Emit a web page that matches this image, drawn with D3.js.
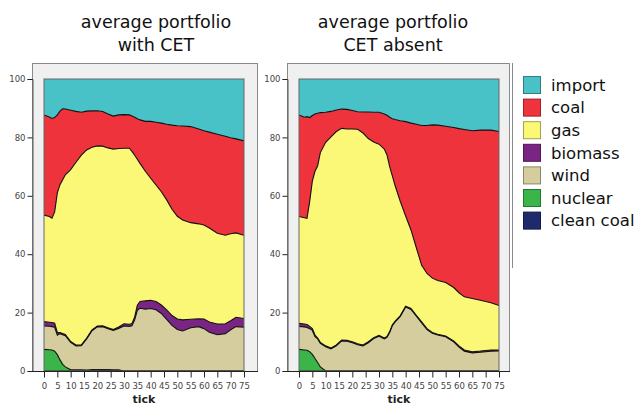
<!DOCTYPE html>
<html><head><meta charset="utf-8">
<script src="https://cdn.jsdelivr.net/npm/d3@7/dist/d3.min.js"></script>
<style>body{margin:0;background:#fff}svg{display:block}</style>
</head><body>
<svg id="chart" width="638" height="406"></svg>
<script>
// ---------- data ----------
const ticks = [0,2,3,4,5,6,7,8,10,12,14,16,18,20,22,24,26,28,30,32,33,34,35,36,38,40,42,44,46,48,50,52,55,58,60,62,65,68,70,72,75];
const seriesNames = ["import","coal","gas","biomass","wind","nuclear","clean coal"];
const xTickLabels = [0,5,10,15,20,25,30,35,40,45,50,55,60,65,70,75];
const yTickLabels = [0,20,40,60,80,100];
const titles = [["average portfolio","with CET"],["average portfolio","CET absent"]];

// with CET
const cetCleanCoal = [0,0,0,0,0,0,0,0,0,0,0,0,0.4,0.4,0.4,0.4,0.3,0.3,0,0,0,0,0,0,0,0,0,0,0,0,0,0,0,0,0,0,0,0,0,0,0];
const cetNuclear = [7.4,7.3,7.2,6.8,5.6,3.8,2.3,1.4,0.4,0.4,0.4,0.3,0,0,0,0,0,0,0,0,0,0,0,0,0,0,0,0,0,0,0,0,0,0,0,0,0,0,0,0,0];
const cetWind = [8.0,8.0,8.0,8.2,6.7,9.0,10.1,10.7,9.4,8.2,8.3,10.7,13.4,14.7,14.8,14.1,13.6,14.3,15.4,15.3,15.5,17.5,20.8,21.5,21.2,21.4,21.0,19.7,17.7,15.6,14.2,13.7,14.8,15.2,14.5,13.3,12.4,12.8,14.1,15.2,15.0];
const cetBiomass = [1.5,1.4,1.4,1.4,0.9,0.4,0.4,0.4,0.3,0.3,0.3,0.3,0.3,0.3,0.3,0.3,0.3,0.5,0.8,0.7,0.8,1.0,1.7,2.3,2.8,2.8,2.8,2.9,3.2,3.4,3.6,3.8,2.9,2.7,3.3,3.5,3.7,3.4,3.1,3.2,3.0];
const cetGas = [36.5,36.2,35.7,38.1,47.8,50.6,52.7,54.7,58.9,62.6,64.9,64.4,62.5,61.7,61.5,61.6,61.8,61.1,60.1,60.3,58.9,55.4,50.0,47.3,44.4,41.8,39.9,38.8,37.7,36.4,35.2,34.2,33.1,32.5,32.2,32.2,31.1,30.3,29.8,28.9,28.5];
const cetCoal = [34.3,34.1,34.2,32.3,26.7,25.2,24.3,22.5,20.3,17.4,14.7,13.3,12.5,12.0,11.9,11.6,11.3,11.5,11.5,11.4,12.1,13.0,13.9,14.9,17.1,19.5,21.5,23.5,25.9,28.8,31.0,32.2,32.9,32.5,32.3,32.8,33.9,33.9,32.9,32.2,32.3];
const cetImport = [12.3,13.0,13.5,13.2,12.3,11.0,10.2,10.3,10.7,11.1,11.4,11.0,10.9,10.9,11.1,12.0,12.7,12.3,12.2,12.3,12.7,13.1,13.6,14.0,14.5,14.5,14.8,15.1,15.5,15.8,16.0,16.1,16.3,17.1,17.7,18.2,18.9,19.6,20.1,20.5,21.2];

// CET absent
const absCleanCoal = [0,0,0,0,0,0,0,0,0,0,0,0,0,0,0,0,0,0,0,0,0,0,0,0,0,0,0,0,0,0,0,0,0,0,0,0,0,0,0,0,0];
const absNuclear = [7.4,7.2,7.1,6.6,5.7,4.3,2.9,1.4,0,0,0,0,0,0,0,0,0,0,0,0,0,0,0,0,0,0,0,0,0,0,0,0,0,0,0,0,0,0,0,0,0];
const absWind = [7.9,7.9,7.8,7.9,8.2,7.5,8.1,8.1,8.3,7.6,8.6,10.3,10.2,9.7,9.0,8.6,9.7,11.1,11.9,11.0,11.5,13.2,15.5,16.7,18.7,21.9,21.1,18.8,16.5,14.2,12.9,12.3,11.7,10.0,8.2,6.8,6.2,6.4,6.6,6.8,6.9];
const absBiomass = [1.0,1.0,1.0,0.8,0.6,0.5,0.3,0.3,0.3,0.3,0.3,0.3,0.3,0.3,0.3,0.3,0.3,0.3,0.3,0.3,0.3,0.3,0.3,0.3,0.3,0.3,0.3,0.3,0.3,0.3,0.3,0.3,0.3,0.3,0.4,0.4,0.4,0.4,0.4,0.4,0.3];
const absGas = [36.6,36.4,36.4,42.7,50.5,56.1,59.0,65.0,69.7,72.3,73.1,72.5,72.4,72.9,73.5,72.6,69.6,67.0,65.5,64.7,62.2,56.5,51.0,46.6,39.0,30.9,26.9,23.1,19.4,18.9,18.6,18.4,18.3,18.3,18.2,18.2,18.2,17.4,16.8,16.2,15.2];
const absCoal = [34.8,34.4,34.8,28.8,22.5,19.6,18.0,13.7,10.3,8.7,7.4,6.6,6.7,6.3,6.0,7.2,9.1,10.2,10.9,12.0,13.6,16.9,19.6,22.5,27.7,32.3,36.6,42.3,47.9,50.7,52.5,53.2,53.5,54.8,56.2,57.3,57.5,58.3,58.7,59.1,59.6];
const absImport = [12.3,13.1,12.9,13.2,12.5,12.0,11.7,11.5,11.4,11.1,10.6,10.3,10.4,10.8,11.2,11.3,11.3,11.4,11.4,12.0,12.4,13.1,13.6,13.9,14.3,14.6,15.1,15.5,15.9,15.9,15.7,15.8,16.2,16.6,17.0,17.3,17.7,17.5,17.5,17.5,18.0];

const colors = {"import":"#48c2c6","coal":"#ef333d","gas":"#fbf877","biomass":"#7a2484","wind":"#d5cd9e","nuclear":"#3bb54a","clean coal":"#1f2a6c"};

// ---------- build tables ----------
function table(cc,nu,wi,bi,ga,co,im){
  return ticks.map((t,i)=>({tick:t,"clean coal":cc[i],nuclear:nu[i],wind:wi[i],biomass:bi[i],gas:ga[i],coal:co[i],import:im[i]}));
}
const panelsData = [
  table(cetCleanCoal,cetNuclear,cetWind,cetBiomass,cetGas,cetCoal,cetImport),
  table(absCleanCoal,absNuclear,absWind,absBiomass,absGas,absCoal,absImport)
];
const stackKeys = ["clean coal","nuclear","wind","biomass","gas","coal","import"];

const svg = d3.select("#chart");
const font = "DejaVu Sans, Verdana, sans-serif";

const panels = [
  {fx0:32, fx1:257, px0:44, px1:244, titleX:156},
  {fx0:287, fx1:509, px0:299, px1:499, titleX:393}
];
const fy0 = 63, py0 = 79, py1 = 371;

panels.forEach((p,pi)=>{
  const g = svg.append("g");
  g.append("rect").attr("x",p.fx0+0.5).attr("y",fy0+0.5).attr("width",p.fx1-p.fx0).attr("height",py1-fy0)
    .attr("fill","#f0f0f0").attr("stroke","#8a8a8a").attr("stroke-width",1);

  const x = d3.scaleLinear().domain([0,75]).range([p.px0,p.px1]);
  const y = d3.scaleLinear().domain([0,100]).range([py1,py0]);

  const stack = d3.stack().keys(stackKeys);
  const layers = stack(panelsData[pi]);
  const area = d3.area().x(d=>x(d.data.tick)).y0(d=>y(d[0])).y1(d=>y(d[1]));
  const line = d3.line().x(d=>x(d.data.tick)).y(d=>y(d[1]));

  const clipId = "clip"+pi;
  g.append("clipPath").attr("id",clipId).append("rect")
    .attr("x",p.px0).attr("y",py0).attr("width",p.px1-p.px0).attr("height",py1-py0);
  const pg = g.append("g").attr("clip-path",`url(#${clipId})`);
  pg.selectAll("path.area").data(layers).join("path").attr("class","area")
    .attr("d",area).attr("fill",d=>colors[d.key]);
  pg.selectAll("path.edge").data(layers.filter(l=>l.key!=="import")).join("path").attr("class","edge")
    .attr("d",line).attr("fill","none").attr("stroke","#111").attr("stroke-width",1.1);
  g.append("rect").attr("x",p.px0).attr("y",py0).attr("width",p.px1-p.px0).attr("height",py1-py0)
    .attr("fill","none").attr("stroke","#666").attr("stroke-width",1);

  const ya = d3.axisLeft(y).tickValues(yTickLabels).tickSize(5).tickPadding(2);
  const yg = g.append("g").attr("transform",`translate(${p.fx0+0.5},0)`).call(ya);
  yg.select(".domain").attr("stroke","#555");
  yg.selectAll("text").attr("font-family",font).attr("font-size",8.5).attr("fill","#444");
  yg.selectAll("line").attr("stroke","#222");

  const xa = d3.axisBottom(x).tickValues(xTickLabels).tickSize(6).tickPadding(5);
  const xg = g.append("g").attr("transform",`translate(0,${py1+0.5})`).call(xa);
  xg.select(".domain").attr("d",`M${p.fx0},0H${p.fx1+1}`).attr("stroke","#222");
  xg.selectAll("text").attr("font-family",font).attr("font-size",8.5).attr("fill","#444");
  xg.selectAll("line").attr("stroke","#222");

  g.append("text").attr("x",(p.px0+p.px1)/2).attr("y",403).attr("text-anchor","middle")
    .attr("font-family",font).attr("font-size",11).attr("font-weight","bold").attr("fill","#222").text("tick");

  titles[pi].forEach((t,li)=>{
    g.append("text").attr("x",p.titleX).attr("y",28+li*23).attr("text-anchor","middle")
      .attr("font-family",font).attr("font-size",17.5).attr("fill","#111").text(t);
  });
});

// legend
svg.append("line").attr("x1",512.5).attr("x2",512.5).attr("y1",63).attr("y2",268).attr("stroke","#8a8a8a");
const lg = svg.append("g");
seriesNames.forEach((k,i)=>{
  const cy = 85 + i*22.6;
  lg.append("rect").attr("x",523.5).attr("y",cy-8.5).attr("width",17).attr("height",17)
    .attr("fill",colors[k]).attr("stroke",d3.color(colors[k]).darker(1.2)).attr("stroke-width",1);
  lg.append("text").attr("x",551).attr("y",cy).attr("dy","0.35em")
    .attr("font-family",font).attr("font-size",16.5).attr("fill","#111").text(k);
});
</script>
</body></html>
